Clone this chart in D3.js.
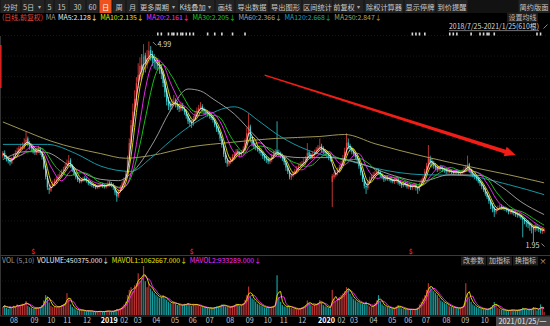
<!DOCTYPE html>
<html>
<head>
<meta charset="utf-8">
<title>日线 K线图</title>
<script src="https://cdn.jsdelivr.net/npm/d3@7/dist/d3.min.js"></script>
<style>
  html, body { margin: 0; padding: 0; background: #000; }
  svg { display: block; }
  text { font-family: "Noto Sans CJK SC", "Liberation Sans", sans-serif; }
</style>
</head>
<body>
<svg id="chart" width="550" height="326"></svg>
<script>
// ---- price bars (one bar = two trading days), 2018/7/25 - 2021/1/25 ----
const opens = [
3.25,3.30,3.25,3.21,3.19,3.15,3.22,3.25,3.31,3.32,
3.36,3.40,3.40,3.44,3.52,3.45,3.41,3.38,3.34,3.30,
3.33,3.37,3.31,3.23,3.06,2.92,2.77,2.73,2.80,2.83,
2.86,2.91,2.95,2.96,3.02,3.05,3.11,3.13,3.19,3.11,
3.05,2.99,2.94,2.90,2.86,2.88,2.92,2.91,2.88,2.85,
2.83,2.82,2.80,2.77,2.79,2.80,2.83,2.81,2.78,2.80,
2.85,2.83,2.82,2.78,2.71,2.65,2.73,2.77,2.83,2.90,
2.99,3.22,3.44,3.70,3.95,4.10,4.38,4.46,4.64,4.52,
4.78,4.64,4.72,4.86,4.80,4.73,4.67,4.67,4.63,4.60,
4.50,4.38,4.24,4.10,4.03,3.99,4.05,4.10,4.05,4.01,
3.96,4.02,3.97,3.93,3.86,3.79,3.77,3.73,3.81,3.87,
3.93,3.99,4.01,3.96,3.92,3.92,3.90,3.87,3.84,3.80,
3.73,3.67,3.61,3.51,3.41,3.27,3.19,3.13,3.17,3.18,
3.23,3.27,3.33,3.31,3.27,3.30,3.35,3.45,3.58,3.70,
3.49,3.45,3.41,3.39,3.37,3.34,3.31,3.26,3.23,3.21,
3.16,3.19,3.24,3.28,3.34,3.31,3.29,3.26,3.23,3.15,
3.07,3.01,2.93,2.97,2.98,3.02,3.05,3.11,3.11,3.13,
3.16,3.19,3.31,3.27,3.23,3.27,3.30,3.34,3.37,3.41,
3.37,3.33,3.31,3.29,3.25,2.86,2.93,2.96,3.00,3.03,
3.07,3.13,3.21,3.30,3.46,3.41,3.37,3.33,3.30,3.25,
3.19,3.09,2.99,2.89,2.80,2.77,2.85,2.91,2.93,2.96,
2.98,3.03,3.01,2.97,2.94,2.89,2.94,2.92,2.91,2.89,
2.86,2.88,2.91,2.86,2.84,2.80,2.85,2.83,2.78,2.81,
2.77,2.79,2.82,2.78,2.74,2.81,2.87,2.91,3.01,3.09,
3.21,3.17,3.15,3.11,3.09,3.04,3.09,3.08,3.06,3.05,
3.01,3.04,3.03,3.02,2.99,3.03,3.02,2.98,3.00,3.01,
3.04,3.07,3.13,3.03,3.00,2.97,2.95,2.92,2.88,2.85,
2.80,2.75,2.69,2.64,2.58,2.51,2.47,2.40,2.45,2.47,
2.49,2.48,2.47,2.46,2.44,2.40,2.43,2.41,2.40,2.38,
2.37,2.36,2.33,2.30,2.27,2.26,2.23,2.21,2.18,2.13,
2.19,2.17,2.15,2.11,2.12
];
const highs = [
3.33,3.34,3.27,3.24,3.22,3.24,3.29,3.34,3.38,3.41,
3.44,3.46,3.52,3.62,3.55,3.48,3.44,3.41,3.37,3.38,
3.41,3.39,3.33,3.25,3.09,2.95,2.82,2.83,2.88,2.91,
2.94,2.98,3.01,3.05,3.09,3.14,3.20,3.27,3.22,3.13,
3.07,3.01,2.96,2.92,2.92,2.94,2.95,2.93,2.90,2.88,
2.86,2.84,2.83,2.82,2.84,2.86,2.85,2.83,2.84,2.88,
2.88,2.86,2.84,2.79,2.73,2.75,2.81,2.87,2.93,3.02,
3.26,3.52,3.80,4.05,4.25,4.45,4.66,4.75,4.80,4.95,
4.82,4.86,4.99,4.92,4.85,4.80,4.76,4.74,4.70,4.64,
4.55,4.42,4.28,4.15,4.08,4.12,4.18,4.13,4.09,4.05,
4.08,4.06,4.00,3.96,3.89,3.83,3.80,3.86,3.93,3.99,
4.03,4.07,4.04,3.99,3.96,3.95,3.93,3.90,3.86,3.82,
3.76,3.70,3.63,3.54,3.43,3.30,3.22,3.20,3.24,3.28,
3.31,3.36,3.36,3.33,3.34,3.40,3.52,3.68,3.90,3.73,
3.53,3.48,3.44,3.42,3.40,3.37,3.33,3.29,3.26,3.24,
3.23,3.29,3.33,3.36,3.78,3.35,3.32,3.29,3.25,3.18,
3.10,3.04,2.99,3.02,3.06,3.10,3.14,3.16,3.18,3.22,
3.25,3.45,3.34,3.30,3.32,3.35,3.39,3.42,3.52,3.44,
3.40,3.36,3.34,3.31,3.28,2.98,3.01,3.04,3.08,3.12,
3.18,3.27,3.38,3.60,3.52,3.44,3.40,3.36,3.33,3.28,
3.22,3.12,3.02,2.92,2.84,2.89,2.94,2.98,3.01,3.03,
3.07,3.06,3.03,2.99,2.96,2.96,2.96,2.94,2.93,2.91,
2.93,2.94,2.93,2.88,2.86,2.87,2.87,2.85,2.83,2.83,
2.83,2.85,2.84,2.79,2.85,2.91,2.96,3.06,3.15,3.42,
3.26,3.22,3.18,3.14,3.12,3.11,3.12,3.10,3.08,3.07,
3.06,3.06,3.05,3.04,3.05,3.05,3.04,3.03,3.05,3.09,
3.12,3.26,3.15,3.06,3.02,2.99,2.97,2.94,2.90,2.87,
2.82,2.77,2.71,2.66,2.60,2.54,2.49,2.47,2.50,2.52,
2.52,2.50,2.49,2.48,2.46,2.45,2.45,2.43,2.42,2.40,
2.39,2.38,2.35,2.32,2.29,2.28,2.25,2.23,2.20,2.23,
2.22,2.19,2.17,2.16,2.16
];
const lows = [
3.22,3.22,3.17,3.14,3.11,3.13,3.19,3.22,3.27,3.29,
3.32,3.35,3.36,3.42,3.40,3.35,3.33,3.29,3.27,3.27,
3.30,3.27,3.20,3.05,2.90,2.74,2.68,2.71,2.77,2.80,
2.83,2.88,2.91,2.93,2.99,3.02,3.07,3.10,3.07,3.01,
2.95,2.90,2.86,2.84,2.84,2.86,2.87,2.85,2.81,2.80,
2.78,2.77,2.75,2.75,2.76,2.78,2.77,2.76,2.76,2.78,
2.79,2.78,2.74,2.66,2.56,2.62,2.70,2.75,2.81,2.88,
2.96,3.15,3.38,3.62,3.86,4.02,4.28,4.40,4.42,4.48,
4.52,4.58,4.66,4.70,4.62,4.58,4.56,4.55,4.50,4.42,
4.30,4.15,4.02,3.95,3.93,3.96,4.01,3.99,3.95,3.92,
3.93,3.94,3.88,3.82,3.74,3.70,3.68,3.71,3.79,3.84,
3.90,3.95,3.92,3.90,3.87,3.85,3.82,3.80,3.76,3.69,
3.62,3.58,3.48,3.38,3.24,3.15,3.09,3.10,3.13,3.16,
3.20,3.24,3.27,3.24,3.24,3.27,3.32,3.42,3.55,3.46,
3.40,3.36,3.34,3.32,3.29,3.26,3.21,3.18,3.15,3.13,
3.13,3.16,3.21,3.25,3.27,3.25,3.22,3.18,3.12,3.03,
2.98,2.90,2.89,2.93,2.96,2.99,3.02,3.07,3.08,3.10,
3.12,3.17,3.22,3.20,3.21,3.24,3.28,3.31,3.34,3.31,
3.28,3.26,3.24,3.19,3.17,2.48,2.90,2.93,2.96,3.00,
3.04,3.10,3.18,3.27,3.36,3.32,3.28,3.25,3.20,3.16,
3.06,2.96,2.86,2.76,2.68,2.74,2.82,2.88,2.91,2.94,
2.95,2.97,2.93,2.90,2.86,2.87,2.88,2.87,2.85,2.84,
2.83,2.85,2.82,2.80,2.77,2.78,2.79,2.76,2.75,2.74,
2.74,2.76,2.73,2.68,2.72,2.79,2.84,2.89,2.98,3.06,
3.10,3.08,3.06,3.04,3.01,3.02,3.03,3.01,3.00,2.98,
2.98,2.99,2.98,2.97,2.97,2.98,2.96,2.96,2.97,2.99,
3.01,3.04,3.00,2.96,2.93,2.90,2.88,2.84,2.80,2.75,
2.71,2.65,2.60,2.53,2.45,2.40,2.33,2.37,2.42,2.44,
2.44,2.43,2.42,2.40,2.37,2.37,2.37,2.35,2.33,2.32,
2.32,2.29,2.02,2.22,2.18,2.16,2.12,2.08,1.95,2.10,
2.12,2.10,2.08,2.07,2.09
];
const closes = [
3.29,3.24,3.20,3.18,3.16,3.21,3.26,3.30,3.33,3.37,
3.39,3.41,3.45,3.50,3.44,3.40,3.37,3.33,3.31,3.34,
3.36,3.30,3.24,3.08,2.94,2.78,2.74,2.79,2.84,2.87,
2.90,2.94,2.97,3.01,3.05,3.10,3.14,3.18,3.10,3.04,
2.98,2.93,2.89,2.87,2.89,2.91,2.90,2.87,2.84,2.83,
2.81,2.80,2.78,2.79,2.81,2.82,2.80,2.79,2.81,2.84,
2.82,2.81,2.78,2.70,2.64,2.72,2.78,2.84,2.90,2.98,
3.20,3.45,3.72,3.93,4.12,4.36,4.48,4.62,4.55,4.76,
4.66,4.74,4.85,4.79,4.72,4.68,4.66,4.62,4.58,4.50,
4.36,4.22,4.08,4.02,4.00,4.06,4.09,4.04,4.00,3.97,
4.01,3.98,3.92,3.86,3.78,3.76,3.74,3.82,3.88,3.94,
3.98,4.00,3.95,3.93,3.91,3.89,3.86,3.83,3.80,3.72,
3.66,3.62,3.52,3.42,3.28,3.20,3.14,3.16,3.19,3.24,
3.28,3.32,3.30,3.28,3.31,3.36,3.46,3.60,3.72,3.50,
3.44,3.40,3.38,3.36,3.33,3.30,3.25,3.22,3.20,3.17,
3.20,3.25,3.29,3.32,3.30,3.28,3.25,3.22,3.16,3.08,
3.02,2.94,2.96,2.99,3.03,3.06,3.10,3.12,3.14,3.17,
3.20,3.30,3.26,3.24,3.28,3.31,3.35,3.38,3.40,3.36,
3.32,3.30,3.28,3.24,3.22,2.95,2.97,3.00,3.04,3.08,
3.14,3.22,3.32,3.45,3.40,3.36,3.32,3.29,3.24,3.20,
3.10,3.00,2.90,2.80,2.78,2.86,2.90,2.94,2.97,2.99,
3.02,3.00,2.96,2.93,2.90,2.93,2.91,2.90,2.88,2.87,
2.89,2.90,2.85,2.83,2.81,2.84,2.82,2.79,2.80,2.78,
2.80,2.81,2.77,2.75,2.82,2.88,2.92,3.02,3.10,3.22,
3.16,3.14,3.10,3.08,3.05,3.08,3.07,3.05,3.04,3.02,
3.03,3.02,3.01,3.00,3.02,3.01,2.99,3.00,3.02,3.05,
3.08,3.12,3.02,2.99,2.96,2.94,2.91,2.87,2.84,2.79,
2.74,2.68,2.63,2.57,2.50,2.46,2.41,2.44,2.46,2.48,
2.47,2.46,2.45,2.43,2.41,2.42,2.40,2.39,2.37,2.36,
2.35,2.32,2.29,2.26,2.25,2.22,2.20,2.17,2.14,2.20,
2.16,2.14,2.12,2.13,2.13
];
// volume per bar, in units of 10,000 shares
const volumes = [
120,150,110,95,130,105,140,125,160,135,
150,170,165,210,140,120,110,95,100,115,
105,120,150,220,300,280,190,140,120,130,
115,125,135,150,165,180,330,250,160,120,
100,85,70,75,80,65,60,55,70,60,
55,50,45,55,60,50,45,55,65,60,
55,50,60,75,90,80,100,130,160,200,
300,380,420,360,450,480,630,520,560,740,
510,420,480,400,360,330,300,280,260,270,
300,250,230,200,180,170,200,170,150,160,
140,150,170,160,180,150,140,170,160,150,
140,130,120,110,115,105,100,110,95,120,
130,125,140,160,150,130,120,110,125,140,
150,170,160,140,150,180,230,300,430,280,
250,230,200,170,160,140,130,115,110,120,
110,125,140,160,600,270,200,150,130,120,
140,130,110,100,95,90,85,100,120,130,
150,220,180,150,140,160,170,180,225,190,
150,130,120,110,100,380,250,210,230,260,
300,330,360,420,400,320,280,240,220,200,
190,180,170,160,200,150,130,120,140,180,
220,300,200,160,140,130,120,110,100,95,
100,130,150,120,100,95,90,85,80,90,
85,80,90,110,160,200,250,300,380,480,
420,380,360,330,300,260,220,200,180,170,
150,130,120,115,110,105,100,110,130,160,
480,330,250,200,160,140,120,110,100,95,
90,85,80,100,120,150,195,140,110,90,
80,75,70,65,70,75,80,70,65,75,
80,85,110,90,80,75,85,95,120,100,
70,79,160,113,45
];

// long moving averages, [bar, value]
const ma60Pts = [[0,3.20],[13,3.32],[24,3.31],[38,3.10],[55,2.90],[65,2.88],[72,2.99],[85,3.48],[94,3.94],[104,4.27],[111,4.24],[118,4.12],[130,3.89],[142,3.55],[153,3.29],[167,3.23],[184,3.23],[201,3.14],[218,2.97],[235,2.87],[251,2.97],[268,2.96],[280,2.79],[291,2.56],[304,2.366]];
const ma120Pts = [[0,3.43],[25,3.43],[41,3.29],[55,3.10],[72,3.02],[83,3.22],[94,3.48],[111,3.81],[130,4.00],[145,3.76],[153,3.60],[167,3.39],[177,3.29],[192,3.20],[209,3.07],[236,2.97],[258,2.96],[284,2.82],[304,2.668]];
const ma250Pts = [[0,3.77],[10,3.66],[27,3.48],[55,3.29],[69,3.22],[83,3.26],[105,3.39],[128,3.46],[153,3.52],[178,3.55],[192,3.58],[209,3.44],[236,3.25],[266,3.07],[284,2.97],[304,2.847]];

// moving-average settings and latest readouts
const maNames = ["MA5", "MA10", "MA20", "MA30", "MA60", "MA120", "MA250"];
const maBars = [3, 5, 10, 15];              // short averages, in bars
const maLatest = ["2.128", "2.135", "2.161", "2.205", "2.366", "2.668", "2.847"];
const maColors = ["#eeeeee", "#e6e600", "#ff2cff", "#19d219", "#a8a8a8", "#14a9b8", "#b0a65e"];
const volNames = ["VOLUME", "MAVOL1", "MAVOL2"];
const volLatest = ["450375.000", "1062667.000", "933289.000"];

// month axis: first trading day (day index from 2018/7/25)
const monthLabels = ["08","09","10","11","12","2019","02","03","04","05","06","07","08","09","10","11","12","2020","02","03","04","05","06","07","08","09","10","11","12","2021"];
const monthStartDay = [5,28,47,65,87,107,129,144,165,186,206,225,248,270,290,308,329,351,367,387,409,430,448,468,491,512,534,550,571,594];

// event markers (bars)
const infoBars = [87,89,93,95,96,98,100,101,103,105,107,115,119,123,129,136,230,232,234,237,251,253,255,263,268,270,272,273,276,300,302];
const dividendBars = [17,106,229];

// trend annotation: [bar, price]
const arrowFrom = [147, 4.48];
const arrowTo = [288, 3.27];

// ---------------------------------------------------------------
const W = 550, H = 326;
const svg = d3.select("#chart");
svg.append("rect").attr("width", W).attr("height", H).attr("fill", "#000");

const N = closes.length;
const x = d3.scaleLinear().domain([0, N]).range([2, 545]);
const cx = i => x(i + 0.5);
const y = d3.scaleLinear().domain([d3.min(lows), d3.max(highs)]).range([242, 41.5]);
const yv = d3.scaleLinear().domain([0, d3.max(volumes)]).range([315, 266]);
const UP = "#e8413c", DOWN = "#38d2d2";
const isUp = i => closes[i] >= opens[i];

// ---- toolbar ----
const toolbar = [
  {t: "分时", a: 0, b: 21}, {t: "5日", a: 21, b: 45, drop: true}, {t: "5", a: 45, b: 54},
  {t: "15", a: 54, b: 69}, {t: "30", a: 69, b: 86}, {t: "60", a: 86, b: 99},
  {t: "日", a: 99, b: 112, on: true}, {t: "周", a: 112, b: 126}, {t: "月", a: 126, b: 139},
  {t: "更多周期", a: 139, b: 179, drop: true}, {t: "K线叠加", a: 179, b: 215, drop: true},
  {t: "画线", a: 215, b: 235}, {t: "导出数据", a: 235, b: 269}, {t: "导出图形", a: 269, b: 302},
  {t: "区间统计", a: 302, b: 333}, {t: "前复权", a: 333, b: 364, drop: true},
  {t: "除权计算器", a: 364, b: 404}, {t: "显示停牌", a: 404, b: 436}, {t: "到价提醒", a: 436, b: 468},
  {t: "简约版面", a: 518, b: 550}
];
svg.append("rect").attr("x", 0).attr("y", 0).attr("width", W).attr("height", 13).attr("fill", "#121212");
const tb = svg.append("g").selectAll("g").data(toolbar).join("g");
tb.append("rect").attr("x", d => d.a + 0.5).attr("y", 0).attr("width", d => d.b - d.a - 1).attr("height", 13)
  .attr("fill", d => d.on ? "#f0521e" : "#232323");
tb.append("text").attr("x", d => d.drop ? (d.a + d.b - 9) / 2 : (d.a + d.b) / 2).attr("y", 9.6)
  .attr("text-anchor", "middle").attr("font-size", 7.2).attr("fill", d => d.on ? "#fff" : "#c9c9c9").text(d => d.t);
tb.filter(d => d.drop).append("text").attr("x", d => d.b - 6).attr("y", 9.2).attr("text-anchor", "middle")
  .attr("font-size", 6).attr("fill", "#aaa").text("▾");

// ---- legend row ----
const legendItems = [{t: "(日线,前复权)", c: "#e8463a"}, {t: "MA", c: "#9a9a9a"}]
  .concat(maNames.map((n, i) => ({t: `${n}:${maLatest[i]}↓`, c: maColors[i]})));
let lx = 2;
const lg = svg.append("g");
legendItems.forEach(d => {
  const t = lg.append("text").attr("x", lx).attr("y", 19.6).attr("font-size", 6.9).attr("fill", d.c).text(d.t);
  lx += t.node().getComputedTextLength() + 2.6;
});
svg.append("rect").attr("x", 507).attr("y", 12.5).attr("width", 31).attr("height", 10).attr("fill", "#1c1c1c");
svg.append("text").attr("x", 522.5).attr("y", 20).attr("text-anchor", "middle").attr("font-size", 7)
  .attr("fill", "#bdbdbd").text("设置均线");
svg.append("text").attr("x", 449).attr("y", 29.4).attr("font-size", 7).attr("fill", "#dcdcdc")
  .attr("textLength", 90).attr("lengthAdjust", "spacingAndGlyphs").text("2018/7/25-2021/1/25(610根)");
svg.append("line").attr("x1", 449).attr("x2", 539).attr("y1", 30.6).attr("y2", 30.6).attr("stroke", "#bbb").attr("stroke-width", 0.6);
svg.append("line").attr("x1", 543.5).attr("x2", 547.5).attr("y1", 28.5).attr("y2", 24.5).attr("stroke", "#aaa").attr("stroke-width", 0.8);

// ---- grid ----
const grid = svg.append("g").attr("stroke", "#242424").attr("stroke-width", 0.6).attr("stroke-dasharray", "1,2");
d3.range(10).forEach(k => {
  const gy = 35.5 + k * 20.6;
  grid.append("line").attr("x1", 2).attr("x2", 548).attr("y1", gy).attr("y2", gy);
});
[281, 298].forEach(gy => grid.append("line").attr("x1", 2).attr("x2", 548).attr("y1", gy).attr("y2", gy));

// frame lines
svg.append("line").attr("x1", 0.5).attr("x2", 0.5).attr("y1", 36).attr("y2", 316).attr("stroke", "#333");
svg.append("rect").attr("x", 0).attr("y", 45).attr("width", 1.6).attr("height", 43).attr("fill", "#d82020");
svg.append("line").attr("x1", 0).attr("x2", W).attr("y1", 255.5).attr("y2", 255.5).attr("stroke", "#3a3a3a");
svg.append("line").attr("x1", 0).attr("x2", W).attr("y1", 316).attr("y2", 316).attr("stroke", "#3a3a3a");

// ---- info markers ----
svg.append("g").selectAll("rect").data(infoBars).join("rect")
  .attr("x", d => cx(d) - 0.8).attr("y", 32.5).attr("width", 1.6).attr("height", 3).attr("fill", "#d8d8d8");

// ---- candles ----
const cw = Math.max(1, (x(1) - x(0)) * 0.68);
const cg = svg.append("g");
cg.selectAll("line").data(closes).join("line")
  .attr("x1", (d, i) => cx(i)).attr("x2", (d, i) => cx(i))
  .attr("y1", (d, i) => y(highs[i])).attr("y2", (d, i) => y(lows[i]))
  .attr("stroke", (d, i) => isUp(i) ? UP : DOWN).attr("stroke-width", 0.8);
cg.selectAll("rect").data(closes).join("rect")
  .attr("x", (d, i) => cx(i) - cw / 2).attr("width", cw)
  .attr("y", (d, i) => y(Math.max(d, opens[i])))
  .attr("height", (d, i) => Math.max(0.8, Math.abs(y(d) - y(opens[i]))))
  .attr("fill", (d, i) => isUp(i) ? UP : DOWN);

// ---- moving averages ----
const sma = (arr, n) => arr.map((_, i) => d3.mean(arr.slice(Math.max(0, i - n + 1), i + 1)));
const line = d3.line().x((d, i) => cx(i)).y(d => y(d));
const knotLine = d3.line().x(d => cx(d[0])).y(d => y(d[1])).curve(d3.curveMonotoneX);
const mg = svg.append("g").attr("fill", "none").attr("stroke-width", 0.9);
[ma250Pts, ma120Pts, ma60Pts].forEach((pts, k) => {
  mg.append("path").attr("d", knotLine(pts)).attr("stroke", maColors[6 - k]);
});
[3, 2, 1, 0].forEach(k => {
  mg.append("path").attr("d", line(sma(closes, maBars[k]))).attr("stroke", maColors[k]);
});

// ---- high / low tags ----
const iMax = d3.maxIndex(highs), iMin = d3.minIndex(lows);
svg.append("line").attr("x1", cx(iMax) + 4).attr("y1", y(highs[iMax]) + 0.5)
  .attr("x2", cx(iMax) + 7.5).attr("y2", y(highs[iMax]) + 4).attr("stroke", "#ccc").attr("stroke-width", 0.7);
svg.append("text").attr("x", cx(iMax) + 8.5).attr("y", y(highs[iMax]) + 5.5).attr("font-size", 7.2)
  .attr("font-family", "Liberation Serif, serif").attr("fill", "#d8d8d8").text(highs[iMax].toFixed(2));
svg.append("text").attr("x", cx(iMin) + 6).attr("y", y(lows[iMin]) + 5.5).attr("text-anchor", "end").attr("font-size", 7.2)
  .attr("font-family", "Liberation Serif, serif").attr("fill", "#d8d8d8").text(lows[iMin].toFixed(2));
svg.append("line").attr("x1", cx(iMin) + 8).attr("y1", y(lows[iMin]) + 1.5)
  .attr("x2", cx(iMin) + 11).attr("y2", y(lows[iMin]) + 4.5).attr("stroke", "#ccc").attr("stroke-width", 0.7);

// ---- dividend markers ----
svg.append("g").selectAll("text").data(dividendBars).join("text")
  .attr("x", d => cx(d)).attr("y", 254).attr("text-anchor", "middle").attr("font-size", 6.5)
  .attr("font-weight", "bold").attr("fill", "#e02020").text("$");

// ---- trend arrow ----
{
  const p0 = [cx(arrowFrom[0]), y(arrowFrom[1])], p1 = [cx(arrowTo[0]), y(arrowTo[1])];
  const dx = p1[0] - p0[0], dy = p1[1] - p0[1], len = Math.hypot(dx, dy);
  const u = [dx / len, dy / len], n = [-u[1], u[0]];
  const L = 11, hw = 5, w0 = 0.6, w1 = 2.0;
  const b = [p1[0] - u[0] * L, p1[1] - u[1] * L];
  const pt = (p, s) => [p[0] + n[0] * s, p[1] + n[1] * s];
  const poly = [pt(p0, w0), pt(b, w1), pt(b, hw), p1, pt(b, -hw), pt(b, -w1), pt(p0, -w0)];
  svg.append("path").attr("d", d3.line()(poly) + "Z").attr("fill", "#f21d16");
}

// ---- volume legend ----
const vItems = [{t: "VOL (5,10)", c: "#9a9a9a"}].concat(volNames.map((n, i) => ({
  t: `${n}:${volLatest[i]}↓`, c: ["#eeeeee", "#e6e600", "#ff2cff"][i]})));
let vx = 2;
vItems.forEach(d => {
  const t = svg.append("text").attr("x", vx).attr("y", 262.6).attr("font-size", 6.9).attr("fill", d.c).text(d.t);
  vx += t.node().getComputedTextLength() + 2.6;
});
const vButtons = [{t: "改参数", a: 461, b: 486}, {t: "加指标", a: 487, b: 512}, {t: "换指标", a: 513, b: 538}];
const vb = svg.append("g").selectAll("g").data(vButtons).join("g");
vb.append("rect").attr("x", d => d.a).attr("y", 256.5).attr("width", d => d.b - d.a).attr("height", 9).attr("fill", "#1e1e1e");
vb.append("text").attr("x", d => (d.a + d.b) / 2).attr("y", 263.4).attr("text-anchor", "middle")
  .attr("font-size", 7).attr("fill", "#c4c4c4").text(d => d.t);
svg.append("text").attr("x", 543).attr("y", 263.6).attr("text-anchor", "middle").attr("font-size", 7.5).attr("fill", "#bbb").text("×");

// ---- volume bars ----
svg.append("g").selectAll("rect").data(volumes).join("rect")
  .attr("x", (d, i) => cx(i) - cw / 2).attr("width", cw)
  .attr("y", d => yv(d)).attr("height", d => 315 - yv(d))
  .attr("fill", (d, i) => isUp(i) ? "#b83232" : "#169c9c");
const vline = d3.line().x((d, i) => cx(i)).y(d => yv(d));
svg.append("path").attr("d", vline(sma(volumes, 5))).attr("fill", "none").attr("stroke", "#ff2cff").attr("stroke-width", 0.9);
svg.append("path").attr("d", vline(sma(volumes, 3))).attr("fill", "none").attr("stroke", "#e6e600").attr("stroke-width", 0.9);

// ---- time axis (labels that would sit under the date tag are skipped) ----
const tagLeft = 496;
const shown = monthStartDay.map((d, i) => i).filter(i => x(monthStartDay[i] / 2) + 3 + monthLabels[i].length * 4.2 < tagLeft);
const axis = d3.axisBottom(x).tickValues(shown.map(i => monthStartDay[i] / 2))
  .tickFormat((d, k) => monthLabels[shown[k]]).tickSize(0).tickPadding(0);
const ga = svg.append("g").attr("transform", "translate(0,317.5)").call(axis);
ga.select(".domain").remove();
const isYear = k => monthLabels[shown[k]].length === 4;
ga.selectAll("text").attr("text-anchor", "start").attr("dx", 3).attr("font-size", 7.2)
  .attr("font-family", "Noto Sans CJK SC, sans-serif")
  .attr("fill", (d, k) => isYear(k) ? "#ffffff" : "#c8c8c8")
  .attr("font-weight", (d, k) => isYear(k) ? "bold" : "normal");
// nudge a month label right when the previous label would touch it
let prevEnd = -Infinity;
ga.selectAll(".tick").each(function () {
  const tick = d3.select(this), t = tick.select("text");
  const m = /translate\(([-\d.]+)/.exec(tick.attr("transform"));
  const left = +m[1] + 3;
  const shift = Math.max(0, prevEnd + 2.5 - left);
  t.attr("dx", 3 + shift);
  prevEnd = left + shift + t.node().getComputedTextLength();
});

// current date tag
svg.append("rect").attr("x", tagLeft).attr("y", 316.5).attr("width", W - tagLeft).attr("height", 9.5).attr("fill", "#4a4a4a");
svg.append("text").attr("x", 498.5).attr("y", 324.2).attr("font-size", 7)
  .attr("textLength", 48).attr("lengthAdjust", "spacingAndGlyphs")
  .attr("fill", "#f0f0f0").text("2021/01/25/一");
</script>
</body>
</html>
